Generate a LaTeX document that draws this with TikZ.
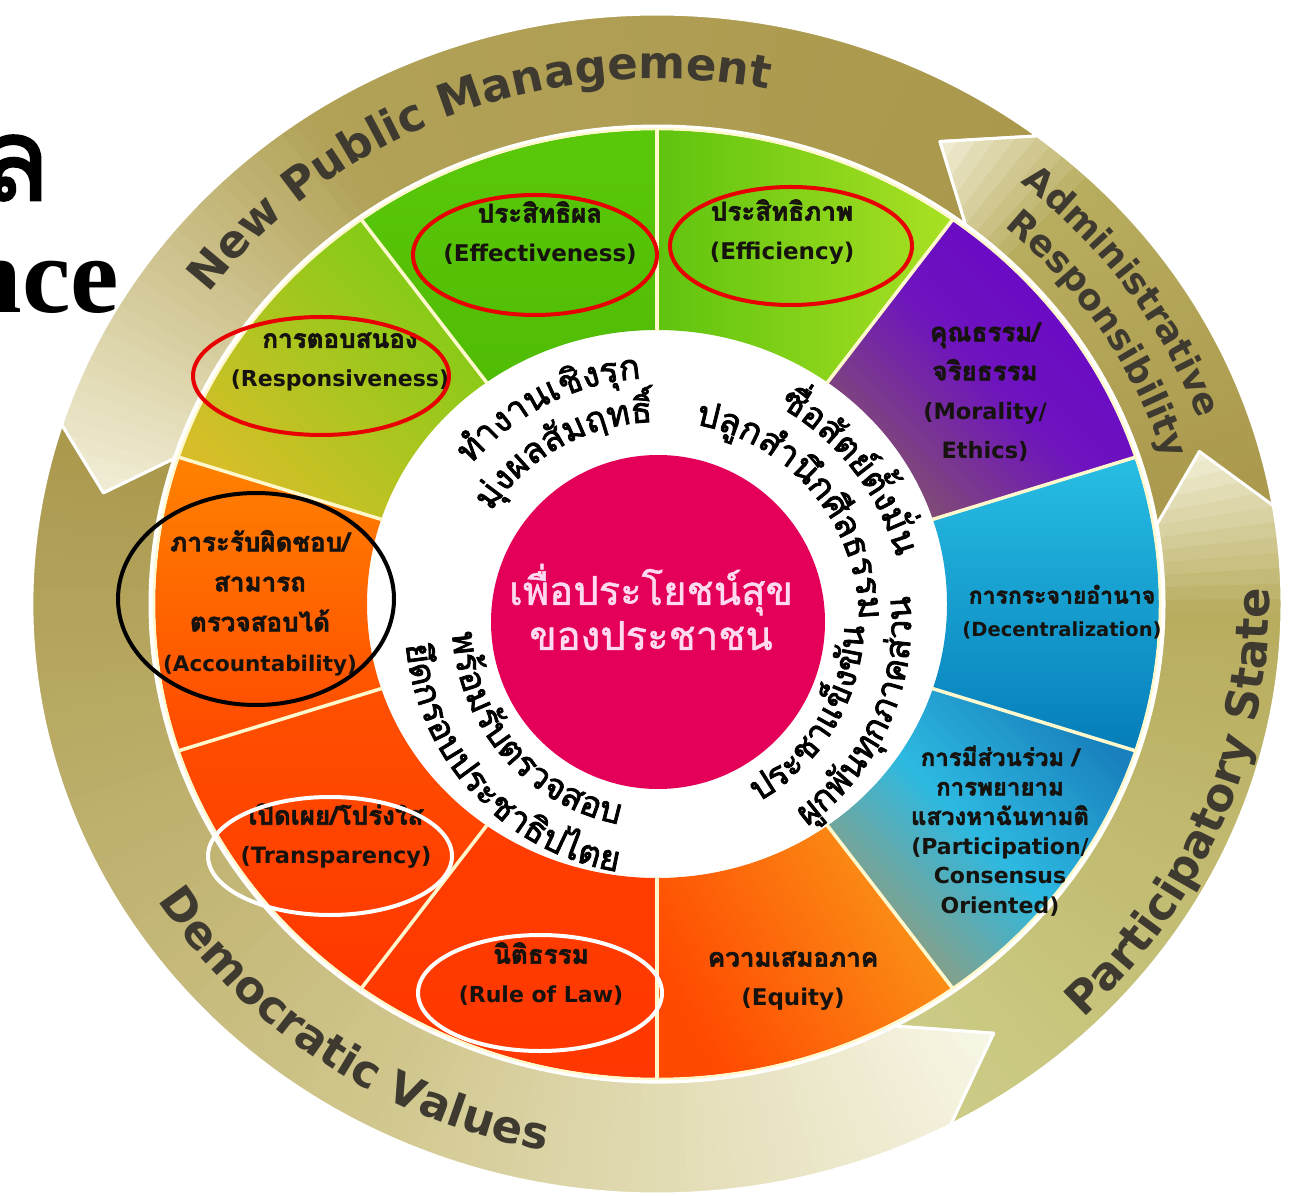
\documentclass[tikz,border=0pt]{standalone}
\usepackage{fontspec}
\setmainfont{DejaVu Sans}
\newfontfamily\thai[Script=Thai]{Loma}
\newfontfamily\thaib[Script=Thai, FakeBold=2.2]{Loma}
\newfontfamily\thaihub[Script=Thai, FakeBold=1.2]{Loma}
\newfontfamily\tserif{Liberation Serif}
\usetikzlibrary{decorations.text}

\definecolor{bandtext}{RGB}{62,58,48}
\definecolor{txt}{RGB}{22,18,14}
\definecolor{pinkc}{RGB}{228,0,88}
\definecolor{hubtext}{RGB}{255,218,238}
\definecolor{divc}{RGB}{255,248,205}
\definecolor{redring}{RGB}{232,0,0}
% band colours
\definecolor{olvA}{RGB}{170,152,76}
\definecolor{olvB}{RGB}{178,162,88}
\definecolor{olvC}{RGB}{205,205,135}
\definecolor{olvD}{RGB}{184,172,94}
\definecolor{olvE}{RGB}{208,198,140}
\definecolor{creamA}{RGB}{242,238,214}
\definecolor{creamB}{RGB}{248,246,230}
% segment colours
\definecolor{effA}{RGB}{95,195,15}
\definecolor{effB}{RGB}{170,225,35}
\definecolor{eftA}{RGB}{90,200,10}
\definecolor{eftB}{RGB}{80,188,5}
\definecolor{resA}{RGB}{125,205,20}
\definecolor{resB}{RGB}{215,190,40}
\definecolor{accA}{RGB}{255,130,0}
\definecolor{accB}{RGB}{255,72,0}
\definecolor{traA}{RGB}{255,80,0}
\definecolor{traB}{RGB}{255,55,0}
\definecolor{rulA}{RGB}{255,62,0}
\definecolor{rulB}{RGB}{255,55,0}
\definecolor{equA}{RGB}{255,72,0}
\definecolor{equB}{RGB}{250,150,25}
\definecolor{parA}{RGB}{150,155,120}
\definecolor{parM}{RGB}{45,185,225}
\definecolor{parB}{RGB}{25,130,190}
\definecolor{decA}{RGB}{40,190,228}
\definecolor{decB}{RGB}{5,125,185}
\definecolor{morA}{RGB}{130,80,110}
\definecolor{morM}{RGB}{110,20,190}
\definecolor{morB}{RGB}{105,5,200}

\newcommand\bandfont{\bfseries\fontsize{45}{50}\selectfont}
\newcommand\adminfont{\bfseries\fontsize{36}{40}\selectfont}
\newcommand\innerfont{\thaib\fontsize{35}{40}\selectfont}
\newcommand\thl{\thaib\fontsize{26}{39}\selectfont}

% arrow band: tail angle, notch depth, tip angle, head length, tail col, mid col, head col, fraction
\newcommand\drawband[8]{%
 \pgfmathsetmacro\bA{#1}%
 \pgfmathsetmacro\bN{#1+#2}%
 \pgfmathsetmacro\bB{#3}%
 \pgfmathsetmacro\bH{#3-#4}%
 \pgfmathtruncatemacro\bNum{(#3-#1+4)/1.5}%
 \begin{scope}
  \clip ([shift={(C)}]\bA:625 and 590) arc[start angle=\bA, end angle=\bH, x radius=625, y radius=590]
     -- ([shift={(C)}]\bB:566 and 534) -- ([shift={(C)}]\bH:507 and 478)
     arc[start angle=\bH, end angle=\bA, x radius=507, y radius=478]
     -- ([shift={(C)}]\bN:566 and 534) -- cycle;
  \foreach \k in {0,...,\bNum}{%
   \pgfmathsetmacro\tA{\bA-2+1.5*\k}%
   \pgfmathsetmacro\tB{\tA+1.8}%
   \pgfmathsetmacro\tpar{min(1,max(0,(\tA+0.9-\bA)/(\bB-\bA)))}%
   \pgfmathsetmacro\mA{\tpar<#8 ? 100*\tpar/#8 : 100}%
   \pgfmathsetmacro\mB{\tpar<#8 ? 0 : 100*(\tpar-#8)/(1-#8)}%
   \colorlet{tmpa}{#6!\mA!#5}%
   \colorlet{tmpb}{#7!\mB!tmpa}%
   \fill[tmpb] (C) -- ([shift={(C)}]\tA:720 and 680) -- ([shift={(C)}]\tB:720 and 680) -- cycle;
  }
 \end{scope}
 \draw[white, line width=3, line join=round]
     ([shift={(C)}]\bA:625 and 590) arc[start angle=\bA, end angle=\bH, x radius=625, y radius=590]
     -- ([shift={(C)}]\bB:566 and 534) -- ([shift={(C)}]\bH:507 and 478)
     arc[start angle=\bH, end angle=\bA, x radius=507, y radius=478]
     -- ([shift={(C)}]\bN:566 and 534) -- cycle;
}

\newcommand\seg[3]{\path[#3] ([shift={(C)}]#1:502 and 474) arc[start angle=#1, end angle=#2, x radius=502, y radius=474]
   -- ([shift={(C)}]#2:290 and 274) arc[start angle=#2, end angle=#1, x radius=290, y radius=274] -- cycle;}

\begin{document}
\begin{tikzpicture}[x=1pt,y=1pt,
  lbl/.style={align=center, inner sep=0pt, text=txt, font=\bfseries\fontsize{23}{39}\selectfont},
  ann/.style={line width=4pt},
  divider/.style={draw=divc, line width=3.5pt}]
\useasboundingbox (0,0) rectangle (1297,1195);
\clip (0,0) rectangle (1297,1195);
\fill[white] (0,0) rectangle (1297,1195);
\coordinate (C) at (657,591);
\coordinate (P) at (658,573);

% ---- outer arrow bands ----
\drawband{52.5}{7.5}{168}{5.7}{olvA}{olvB}{creamA}{0.62}
\drawband{9.5}{7}{60}{7.5}{olvA}{olvD}{creamA}{0.72}
\drawband{-62}{8.5}{16.6}{7}{olvC}{olvD}{creamA}{0.78}
\drawband{162.3}{5.7}{306.5}{8.5}{olvA}{olvE}{creamB}{0.55}

% ---- coloured ring ----
\seg{54}{90}{left color=effA, right color=effB}
\seg{90}{126}{top color=eftA, bottom color=eftB}
\seg{126}{162}{top color=resA, bottom color=resB, shading angle=-45}
\seg{162}{198}{top color=accA, bottom color=accB}
\seg{198}{234}{top color=traA, bottom color=traB}
\seg{234}{270}{top color=rulA, bottom color=rulB}
\seg{270}{306}{left color=equA, right color=equB, shading angle=120}
\seg{306}{342}{left color=parA, right color=parB, middle color=parM, shading angle=135}
\seg{-18}{18}{top color=decA, bottom color=decB}
\seg{18}{54}{left color=morA, right color=morB, middle color=morM, shading angle=135}
\draw[divc, line width=2.5pt] (C) ellipse [x radius=503, y radius=475];
\foreach \d in {18,54,...,342}
  \draw[divider] ([shift={(C)}]\d:289 and 273) -- ([shift={(C)}]\d:504 and 476);

% ---- hub ----
\node[circle, fill=pinkc, minimum size=334, inner sep=0pt] (hub) at (P) {};
\node[align=center, inner sep=0pt, text=hubtext, font=\thaihub\fontsize{40}{45}\selectfont] (hubtxt) at (651,588)
  {เพื่อประโยชน์สุข\\ของประชาชน};

% ---- band texts ----
\path[decorate, decoration={text along path, text align=center, text color=bandtext,
   text={|\bandfont|New Public Management}}]
  ([shift={(C)}]166.5:556 and 525) arc[start angle=166.5, end angle=56.5, x radius=556, y radius=525];
\path[decorate, decoration={text along path, text align=center, text color=bandtext,
   text={|\adminfont|Administrative}}]
  ([shift={(C)}]70:576 and 543) arc[start angle=70, end angle=0, x radius=576, y radius=543];
\path[decorate, decoration={text along path, text align=center, text color=bandtext,
   text={|\adminfont|Responsibility}}]
  ([shift={(C)}]67.5:530 and 500) arc[start angle=67.5, end angle=-2.5, x radius=530, y radius=500];
\path[decorate, decoration={text along path, text align=center, text color=bandtext,
   text={|\bandfont|Participatory State}}]
  ([shift={(C)}]-70:612 and 577) arc[start angle=-70, end angle=26.6, x radius=612, y radius=577];
\path[decorate, decoration={text along path, text align=center, text color=bandtext,
   text={|\bandfont|Democratic Values}}]
  ([shift={(C)}]185:590 and 557) arc[start angle=185, end angle=285, x radius=590, y radius=557];

% ---- inner ring Thai texts ----
\path[decorate, decoration={text along path, text align=center, text={|\innerfont|{ทำ}{ง}{า}{น}{เ}{ชิ}{ง}{รุ}{ก}}}]
  ([shift={(P)}]177:244) arc[start angle=177, end angle=57, radius=244];
\path[decorate, decoration={text along path, text align=center, text={|\innerfont|{มุ่}{ง}{ผ}{ล}{สั}{ม}{ฤ}{ท}{ธิ์}}}]
  ([shift={(P)}]179:200) arc[start angle=179, end angle=59, radius=200];
\path[decorate, decoration={text along path, text align=center, text={|\innerfont|{ซื่}{อ}{สั}{ต}{ย์}{ตั้}{ง}{มั่}{น}}}]
  ([shift={(P)}]98:247) arc[start angle=98, end angle=-22, radius=247];
\path[decorate, decoration={text along path, text align=center, text={|\innerfont|{ป}{ลู}{ก}{สำ}{นึ}{ก}{ศี}{ล}{ธ}{ร}{ร}{ม}}}]
  ([shift={(P)}]100:201) arc[start angle=100, end angle=-20, radius=201];
\path[decorate, decoration={text along path, text align=center, text={|\innerfont|{ป}{ร}{ะ}{ช}{า}{แ}{ข็}{ง}{ขั}{น}}}]
  ([shift={(P)}]-91:206) arc[start angle=-91, end angle=29, radius=206];
\path[decorate, decoration={text along path, text align=center, text={|\innerfont|{ผู}{ก}{พั}{น}{ทุ}{ก}{ภ}{า}{ค}{ส่}{ว}{น}}}]
  ([shift={(P)}]-84:253) arc[start angle=-84, end angle=36, radius=253];
\path[decorate, decoration={text along path, text align=center, text={|\innerfont|{พ}{ร้}{อ}{ม}{รั}{บ}{ต}{ร}{ว}{จ}{ส}{อ}{บ}}}]
  ([shift={(P)}]161:206) arc[start angle=161, end angle=281, radius=206];
\path[decorate, decoration={text along path, text align=center, text={|\innerfont|{ยึ}{ด}{ก}{ร}{อ}{บ}{ป}{ร}{ะ}{ช}{า}{ธิ}{ป}{ไ}{ต}{ย}}}]
  ([shift={(P)}]163:253) arc[start angle=163, end angle=283, radius=253];

% ---- segment labels ----
\node[lbl] (tEff) at (782,963) {{\thl ประสิทธิภาพ}\\(Efficiency)};
\node[lbl] (tEft) at (540,962) {{\thl ประสิทธิผล}\\(Effectiveness)};
\node[lbl, font=\bfseries\fontsize{22}{39}\selectfont] (tRes) at (340,833) {{\thl การตอบสนอง}\\(Responsiveness)};
\node[lbl, font=\bfseries\fontsize{21.5}{40}\selectfont] (tAcc) at (260,592) {{\thl ภาระรับผิดชอบ/}\\{\thl สามารถ}\\{\thl ตรวจสอบได้}\\(Accountability)};
\node[lbl, font=\bfseries\fontsize{22.5}{39}\selectfont] (tTra) at (336,359) {{\thl เปิดเผย/โปร่งใส}\\(Transparency)};
\node[lbl, font=\bfseries\fontsize{22}{39}\selectfont] (tRul) at (541,221) {{\thl นิติธรรม}\\(Rule of Law)};
\node[lbl] (tEqu) at (793,214) {{\thl ความเสมอภาค}\\(Equity)};
\node[lbl, font=\bfseries\fontsize{22}{29.5}\selectfont] (tPar) at (1000,364)
  {{\thaib\fontsize{24}{29.5}\selectfont การมีส่วนร่วม /}\\{\thaib\fontsize{24}{29.5}\selectfont การพยายาม}\\{\thaib\fontsize{24}{29.5}\selectfont แสวงหาฉันทามติ}\\(Participation/\\Consensus\\Oriented)};
\node[lbl, font=\bfseries\fontsize{19.5}{33}\selectfont] (tDec) at (1062,583) {{\thaib\fontsize{23}{33}\selectfont การกระจายอำนาจ}\\(Decentralization)};
\node[lbl, font=\bfseries\fontsize{22.5}{39}\selectfont] (tMor) at (985,803) {{\thl คุณธรรม/}\\{\thl จริยธรรม}\\(Morality/\\Ethics)};

% ---- annotation ellipses ----
\draw[ann, redring] (535,940) ellipse [x radius=122, y radius=60];
\draw[ann, redring] (791,949) ellipse [x radius=121, y radius=59];
\draw[ann, redring] (321,819) ellipse [x radius=128, y radius=59];
\draw[ann, black] (256,596) ellipse [x radius=138, y radius=106];
\draw[ann, white] (330,339) ellipse [x radius=122, y radius=59];
\draw[ann, white] (540,202) ellipse [x radius=122, y radius=58];

% ---- cut-off title text ----
\node[anchor=base east, inner sep=0pt, font=\thaib\fontsize{115}{120}\selectfont] (bigL) at (50,995) {ล};
\node[anchor=base east, inner sep=0pt, font=\tserif\bfseries\fontsize{109}{115}\selectfont] (bigNce) at (119,882) {nce};
\end{tikzpicture}
\end{document}
